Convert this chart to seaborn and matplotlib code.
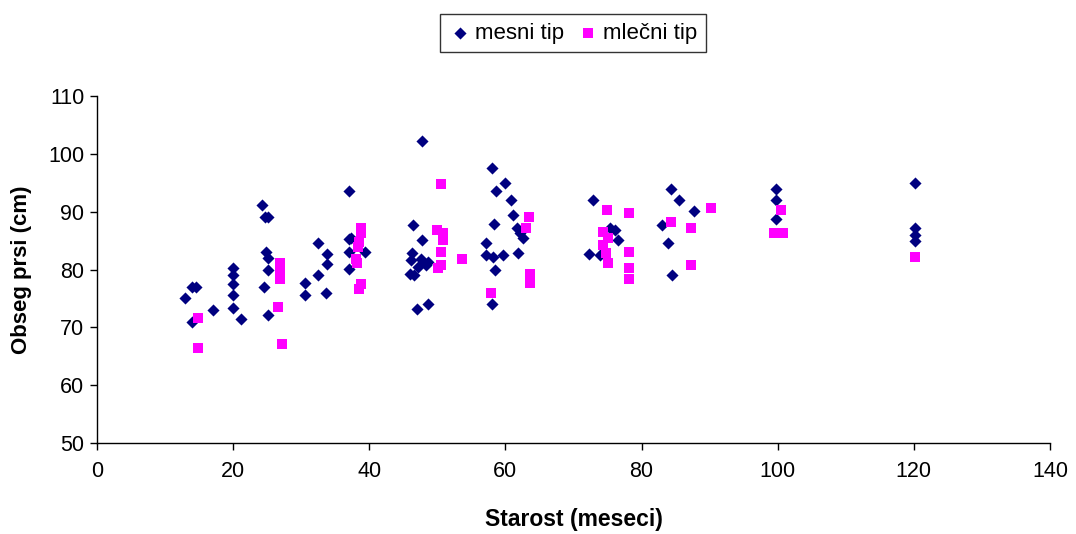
import matplotlib
matplotlib.use("Agg")
import matplotlib.pyplot as plt
import seaborn as sns
import pandas as pd

mesni_x = [13, 14, 14, 14.5, 17,
           20, 20, 20, 20, 20, 21.2,
           24.3, 24.7, 25.2, 24.9, 25.2, 25.2, 24.6, 25.2,
           30.6, 30.6, 32.5, 32.5, 33.8, 33.8, 33.6,
           37.1, 37.1, 37.3, 37.1, 39.4, 37.1,
           46.5, 47.8, 46.3, 46.2, 47.6, 48.6, 47.2, 46.0, 46.6, 48.3, 47.0, 48.6, 47.8,
           58.1, 60.0, 58.6, 60.8, 61.1, 58.4, 61.7, 62.1, 62.6, 57.2, 57.2, 58.2, 59.7, 58.5, 61.9, 58.1,
           72.8, 75.3, 76.1, 76.5, 72.3, 73.9,
           84.4, 85.5, 87.7, 83.0, 83.9, 84.5,
           99.8, 99.8, 99.8,
           120.2, 120.2, 120.2, 120.2]
mesni_y = [75, 71, 77, 77, 73,
           80.2, 79, 77.5, 75.6, 73.4, 71.4,
           91.2, 89, 89, 83, 82, 80, 76.9, 72.1,
           77.6, 75.6, 84.5, 79, 82.6, 80.9, 75.9,
           93.6, 85.2, 85.5, 83, 83, 80.1,
           87.7, 85.1, 82.8, 81.6, 81.9, 81.3, 80.5, 79.3, 79.0, 80.8, 73.1, 74.0, 102.2,
           97.5, 94.9, 93.6, 92.0, 89.5, 87.9, 87.1, 86.3, 85.4, 84.5, 82.5, 82.2, 82.5, 80.0, 82.9, 74.0,
           92.0, 87.1, 86.8, 85.1, 82.6, 82.5,
           94.0, 92.0, 90.2, 87.7, 84.5, 79.0,
           94.0, 92.0, 88.7,
           94.9, 87.1, 86.0, 85.0]

mlecni_x = [14.8, 14.8, 26.9, 26.9, 26.9, 26.6, 27.2,
            38.8, 38.8, 38.5, 38.3, 38.0, 38.2, 38.8, 38.5,
            50.6, 50.0, 50.9, 50.9, 50.6, 50.6, 50.1, 53.7,
            63.4, 63.0, 63.6, 63.6, 57.9,
            74.9, 78.1, 74.4, 75.1, 74.4, 74.8, 75.1, 78.1, 78.1, 78.1,
            90.2, 84.3, 87.3, 87.3,
            100.5, 99.4, 100.8,
            120.2]
mlecni_y = [71.7, 66.5, 81.1, 79.9, 78.4, 73.6, 67.2,
            87.1, 86.3, 84.8, 83.9, 81.9, 81.1, 77.5, 76.7,
            94.8, 86.8, 86.3, 85.1, 83.1, 80.8, 80.2, 81.8,
            89.0, 87.1, 79.3, 77.6, 75.9,
            90.3, 89.7, 86.5, 85.4, 84.2, 82.8, 81.1, 83.1, 80.2, 78.3,
            90.7, 88.2, 87.1, 80.8,
            90.3, 86.3, 86.3,
            82.1]

series_names = ["mesni tip", "mlečni tip"]
x_ticks = [0, 20, 40, 60, 80, 100, 120, 140]
y_ticks = [50, 60, 70, 80, 90, 100, 110]

df = pd.DataFrame({
    "x": mesni_x + mlecni_x,
    "y": mesni_y + mlecni_y,
    "tip": [series_names[0]] * len(mesni_x) + [series_names[1]] * len(mlecni_x),
})

sns.set_style("white")
plt.rcParams["font.family"] = ["Liberation Sans", "DejaVu Sans"]
plt.rcParams["text.color"] = "black"
plt.rcParams["axes.labelcolor"] = "black"
plt.rcParams["xtick.color"] = "black"
plt.rcParams["ytick.color"] = "black"

fig = plt.figure(figsize=(10.76, 5.34), dpi=100)
ax = fig.add_axes([0.0901, 0.1704, 0.8857, 0.6498])

palette = {series_names[0]: "#000080", series_names[1]: "#FF00FF"}
markers = {series_names[0]: "D", series_names[1]: "s"}
sizes_map = {series_names[0]: 38, series_names[1]: 62}

for name in series_names:
    sub = df[df["tip"] == name]
    sns.scatterplot(data=sub, x="x", y="y", color=palette[name], marker=markers[name],
                    s=sizes_map[name], linewidth=0, ax=ax, label=name, zorder=3)

ax.set_xlim(0, 140)
ax.set_ylim(50, 110)
ax.set_xticks(x_ticks)
ax.set_yticks(y_ticks)
ax.tick_params(axis="both", labelsize=15.5, direction="out", length=5, width=1,
               colors="black", bottom=True, left=True)
ax.tick_params(axis="x", pad=8)
ax.tick_params(axis="y", pad=4)
for s in ["top", "right"]:
    ax.spines[s].set_visible(False)
for s in ["left", "bottom"]:
    ax.spines[s].set_color("black")
    ax.spines[s].set_linewidth(1)
ax.set_xlabel("Starost (meseci)", fontsize=16.5, fontweight="bold", labelpad=19)
ax.set_ylabel("Obseg prsi (cm)", fontsize=16, fontweight="bold", labelpad=12)

if ax.legend_:
    ax.legend_.remove()
handles, labels = ax.get_legend_handles_labels()
leg = fig.legend(handles, labels, loc="center", bbox_to_anchor=(0.5325, 0.938), ncol=2,
                 frameon=True, fancybox=False, fontsize=16, handletextpad=0.15,
                 columnspacing=0.6, borderpad=0.4, handlelength=1.0, markerscale=1.0)
leg.get_frame().set_edgecolor("black")
leg.get_frame().set_linewidth(1)

fig.savefig("out.png", dpi=100)
